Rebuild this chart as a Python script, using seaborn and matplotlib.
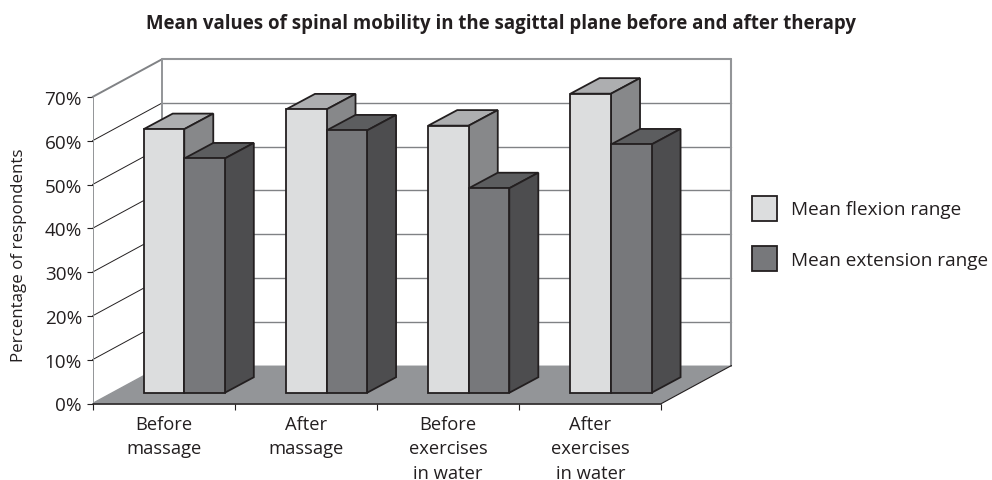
import pandas as pd
import matplotlib
matplotlib.use("Agg")
import matplotlib.pyplot as plt
from matplotlib.patches import Polygon
import seaborn as sns

# Values
categories = ["Before\nmassage", "After\nmassage", "Before\nexercises\nin water", "After\nexercises\nin water"]
flexion = [60.2, 64.7, 61.0, 68.3]
extension = [53.5, 59.9, 46.7, 56.7]
series_names = ["Mean flexion range", "Mean extension range"]
y_ticks = [0, 10, 20, 30, 40, 50, 60, 70]

INK = "#231f20"
WALL = "#939598"
GRID = "#808285"
FRONT = ["#dcddde", "#77787b"]
TOP = ["#adaeb0", "#5c5d5f"]
SIDE = ["#87888a", "#4d4d4f"]

# Fake 3D depth, in data units (categories, percent)
WALL_DX, WALL_DY = 0.492, 8.67
BAR_DX, BAR_DY = 0.204, 3.55
BAR_SHIFT_X, BAR_SHIFT_Y = 0.145, 2.45

sns.set_theme(style="white")
plt.rcParams["font.family"] = ["Open Sans", "DejaVu Sans"]
plt.rcParams["text.color"] = INK

df = pd.DataFrame({
    "category": categories * 2,
    "value": flexion + extension,
    "series": [series_names[0]] * 4 + [series_names[1]] * 4,
})

fig = plt.figure(figsize=(9.92, 4.81), dpi=100)
ax = fig.add_axes([92.5 / 992, (481 - 404.5) / 481, 640 / 992, 344.5 / 481])

sns.barplot(data=df, x="category", y="value", hue="series", order=categories,
            hue_order=series_names, palette=FRONT, width=0.57, gap=0,
            edgecolor=INK, linewidth=1.3, ax=ax)

left, right = -0.5, len(categories) - 0.5
ax.set_xlim(left, left + 640 / 142.25)
ax.set_ylim(0, 70 + WALL_DY)
for s in ax.spines.values():
    s.set_visible(False)

# Floor
ax.add_patch(Polygon([(left, 0), (right, 0), (right + WALL_DX, WALL_DY), (left + WALL_DX, WALL_DY)],
                     facecolor=WALL, edgecolor="none", zorder=1))

# Walls and gridlines
for v in y_ticks[1:]:
    ax.plot([left, left + WALL_DX], [v, v + WALL_DY], color=GRID if v == 70 else INK,
            lw=1.4 if v == 70 else 0.7, zorder=2, clip_on=False)
    ax.plot([left + WALL_DX, right + WALL_DX], [v + WALL_DY, v + WALL_DY],
            color=WALL if v == 70 else GRID, lw=1.5 if v == 70 else 1.0, zorder=2, clip_on=False)
ax.plot([left, left], [0, 70], color=WALL, lw=1.4, zorder=2)
ax.plot([left + WALL_DX] * 2, [WALL_DY, 70 + WALL_DY], color=WALL, lw=1.4, zorder=2)
ax.plot([right + WALL_DX] * 2, [WALL_DY, 70 + WALL_DY], color=WALL, lw=1.5, zorder=2, clip_on=False)
ax.plot([left, left + WALL_DX], [0, WALL_DY], color=WALL, lw=1.0, zorder=2)
ax.plot([right, right + WALL_DX], [0, WALL_DY], color=INK, lw=0.8, zorder=2)
ax.plot([left, right], [0, 0], color=INK, lw=1.2, zorder=3, clip_on=False)

# Push the seaborn bars back onto the floor and add top and side faces
for i, container in enumerate(ax.containers):
    z = 4 + i
    for bar in container:
        bar.set_x(bar.get_x() + BAR_SHIFT_X)
        bar.set_y(bar.get_y() + BAR_SHIFT_Y)
        bar.set_zorder(z + 0.5)
        x0, y0 = bar.get_x(), bar.get_y()
        x1, y1 = x0 + bar.get_width(), y0 + bar.get_height()
        ax.add_patch(Polygon([(x0, y1), (x1, y1), (x1 + BAR_DX, y1 + BAR_DY), (x0 + BAR_DX, y1 + BAR_DY)],
                             facecolor=TOP[i], edgecolor=INK, lw=1.3, joinstyle="miter", zorder=z))
        ax.add_patch(Polygon([(x1, y0), (x1 + BAR_DX, y0 + BAR_DY), (x1 + BAR_DX, y1 + BAR_DY), (x1, y1)],
                             facecolor=SIDE[i], edgecolor=INK, lw=1.3, joinstyle="miter", zorder=z))

# Axes text
ax.set_yticks(y_ticks)
ax.set_yticklabels([f"{v}%" for v in y_ticks], fontsize=13.6)
ax.set_xticks(range(len(categories)))
ax.set_xticklabels(categories, fontsize=13.2, linespacing=1.47)
ax.set_xticks([left + i for i in range(len(categories) + 1)], minor=True)
ax.tick_params(axis="y", left=True, length=4, width=0.8, color=INK, pad=3.5, labelcolor=INK)
ax.tick_params(axis="x", which="major", bottom=False, pad=2, labelcolor=INK)
ax.tick_params(axis="x", which="minor", bottom=True, length=4, width=0.8, color=INK)
ax.set_xlabel("")
ax.set_ylabel("Percentage of respondents", fontsize=12.2, color=INK, labelpad=12.5, y=0.434)
fig.text(501 / 992, 1 - 24 / 481, "Mean values of spinal mobility in the sagittal plane before and after therapy",
         ha="center", va="center", fontsize=13.4, fontweight="bold")

handles, labels = ax.get_legend_handles_labels()
ax.legend(handles, labels, loc="center left", bbox_to_anchor=(752 / 992, 1 - 234.5 / 481),
          bbox_transform=fig.transFigure, frameon=False, fontsize=13.7, handlelength=1.31,
          handleheight=1.64, labelspacing=1.36, handletextpad=0.73, borderpad=0, borderaxespad=0)

fig.savefig("out.png", dpi=100)
